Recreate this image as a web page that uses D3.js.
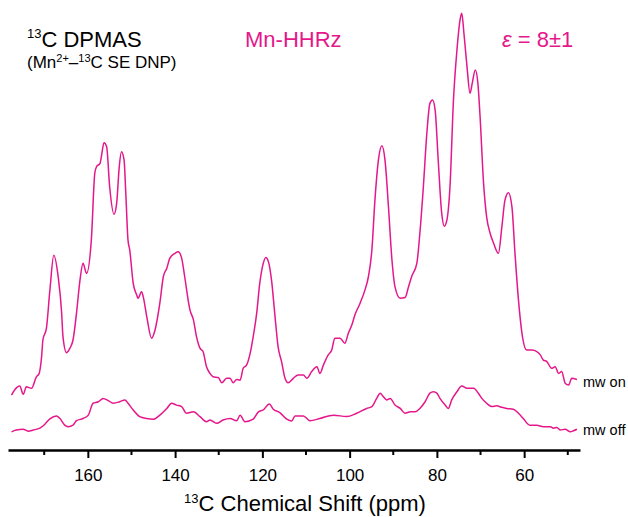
<!DOCTYPE html>
<html>

<head>
    <meta charset="utf-8">
    <title>13C DPMAS Mn-HHRz</title>
    <script src="https://d3js.org/d3.v7.min.js"></script>
    <style>
        body {
            margin: 0;
            background: #fff;
            font-family: Arial, "Liberation Sans", sans-serif;
        }
    </style>
</head>

<body>
    <div class="inner"></div>
    <script>
        // chemical shift (ppm) and intensity (a.u.)
        const onPpm = [177.5, 176.7, 175.6, 174.8, 174.1, 172.9, 171.8, 171.2, 170.6, 170.3, 169.5, 168.7, 167.8, 166.8, 166.0, 165.7, 164.9, 164.1, 163.4, 162.6, 161.8, 161.1, 160.3, 159.2, 158.4, 158.0, 157.2, 156.9, 156.3, 155.7, 155.0, 154.0, 153.4, 152.8, 152.3, 151.7, 151.3, 150.8, 150.4, 149.6, 148.8, 148.5, 147.7, 147.3, 146.5, 145.4, 144.6, 143.5, 142.7, 141.9, 141.2, 140.0, 139.3, 138.5, 137.8, 136.6, 135.8, 135.1, 134.3, 133.6, 132.8, 132.0, 131.3, 130.1, 129.3, 128.2, 127.4, 126.7, 125.9, 125.1, 124.4, 123.6, 122.8, 122.1, 121.3, 120.6, 119.8, 119.2, 118.6, 117.9, 117.1, 116.4, 115.6, 114.8, 114.1, 112.9, 111.8, 110.6, 109.8, 108.7, 107.5, 106.8, 106.0, 104.9, 104.1, 103.4, 102.2, 101.1, 100.3, 99.5, 98.8, 97.6, 96.5, 95.7, 94.9, 94.2, 93.4, 92.6, 91.9, 91.1, 90.3, 89.6, 88.4, 87.3, 86.5, 85.8, 84.6, 83.9, 83.1, 82.3, 81.6, 81.0, 80.4, 79.7, 78.9, 78.3, 77.7, 77.0, 76.2, 75.4, 74.7, 74.3, 73.8, 73.1, 72.4, 71.9, 71.2, 70.6, 70.1, 69.3, 68.6, 67.8, 67.0, 65.9, 65.1, 64.4, 63.6, 62.8, 62.1, 61.3, 60.5, 59.4, 58.2, 57.1, 56.3, 55.6, 54.8, 53.7, 52.9, 52.1, 51.4, 50.6, 49.8, 49.1, 47.9]
        const onInt = [-2.7, -1.2, -0.3, -2.5, -0.5, -0.9, 2.2, 3.0, 7.6, 12.1, 15.2, 25.5, 34.9, 29.1, 19.3, 13.0, 8.7, 9.9, 12.1, 19.3, 28.2, 32.7, 30.0, 39.0, 57.0, 58.7, 59.6, 61.4, 65.1, 64.1, 53.3, 45.9, 48.8, 58.7, 62.7, 60.5, 51.5, 39.0, 36.3, 27.3, 24.2, 23.3, 25.1, 23.7, 18.4, 12.6, 14.8, 22.0, 29.1, 31.4, 34.1, 35.4, 35.8, 34.1, 29.1, 20.2, 17.5, 13.0, 9.9, 9.0, 4.9, 3.1, 2.2, 2.0, 0.6, 1.8, 1.8, 0.6, 1.5, 1.3, 4.5, 5.4, 8.5, 13.0, 19.3, 27.3, 32.7, 34.3, 33.1, 28.2, 18.4, 10.3, 6.3, 1.8, 0.6, 1.8, 2.7, 2.7, 1.8, 3.6, 4.9, 3.1, 5.4, 8.1, 9.4, 12.6, 12.6, 11.2, 13.9, 16.1, 18.8, 22.0, 25.5, 29.1, 36.3, 49.7, 60.5, 64.3, 60.5, 47.9, 33.6, 26.4, 23.3, 23.5, 26.4, 29.1, 32.7, 40.8, 53.3, 67.7, 75.7, 76.6, 73.9, 60.5, 46.2, 42.7, 44.4, 53.3, 76.6, 90.1, 98.1, 99.9, 94.5, 85.6, 78.4, 81.1, 84.7, 81.1, 72.1, 54.2, 45.2, 40.8, 38.1, 35.4, 42.6, 49.7, 51.7, 47.9, 35.4, 22.8, 13.9, 9.4, 9.4, 9.0, 8.1, 6.7, 6.3, 4.5, 4.9, 3.1, 3.6, 0.5, 0.0, 1.8, 1.5]

        const offPpm = [177.5, 176.4, 174.8, 173.7, 172.5, 171.0, 169.9, 168.7, 167.2, 166.4, 165.3, 164.5, 163.4, 162.6, 161.1, 159.9, 158.8, 157.6, 156.5, 155.3, 154.2, 152.7, 151.5, 150.8, 149.6, 148.1, 146.5, 145.0, 143.5, 141.9, 140.8, 139.7, 138.5, 137.4, 135.8, 134.3, 132.8, 132.0, 130.5, 129.0, 127.4, 125.9, 125.1, 124.0, 122.1, 120.9, 119.8, 118.4, 117.5, 116.0, 114.4, 113.3, 112.5, 110.6, 109.1, 106.8, 103.7, 100.7, 98.4, 96.1, 94.9, 93.8, 93.0, 92.3, 91.5, 90.7, 89.6, 88.4, 87.3, 86.1, 85.0, 83.9, 82.7, 81.6, 80.8, 80.0, 79.3, 78.1, 77.4, 76.6, 75.4, 74.3, 73.1, 71.6, 70.5, 69.7, 68.6, 67.4, 66.3, 65.1, 64.0, 62.5, 61.3, 60.2, 58.7, 57.1, 55.6, 54.0, 53.3, 52.5, 51.7, 50.6, 49.4, 48.7, 47.9]
        const offInt = [-0.5, 0.0, 0.2, -0.3, 0.0, 0.5, 1.5, 3.0, 3.8, 3.1, 1.3, 0.9, 1.3, 2.5, 3.1, 4.0, 7.2, 7.6, 8.5, 7.9, 7.2, 7.6, 8.1, 7.2, 5.4, 3.6, 3.1, 2.9, 4.0, 5.8, 7.2, 6.7, 6.3, 4.5, 4.9, 3.6, 2.2, 2.7, 1.8, 2.7, 3.1, 2.5, 4.0, 2.2, 2.9, 4.9, 5.4, 7.0, 5.6, 4.7, 2.9, 2.4, 3.8, 3.8, 2.5, 3.1, 4.0, 3.6, 4.5, 5.8, 6.3, 8.5, 9.9, 9.0, 8.1, 8.5, 6.7, 5.8, 4.5, 4.9, 4.9, 5.8, 7.6, 9.9, 10.3, 9.9, 8.5, 6.7, 5.8, 8.1, 10.3, 11.8, 11.2, 11.2, 9.9, 8.5, 7.2, 6.3, 6.5, 6.1, 5.8, 5.6, 4.5, 3.1, 1.3, 1.3, 0.9, 0.9, 0.5, 0.7, 0.0, 0.2, -0.5, -0.2, 0.2]

        const majorTicks = [160, 140, 120, 100, 80, 60]
        const minorTicks = [170, 150, 130, 110, 90, 70, 50]

        const w = 628
        const h = 517
        const color = "#e4178b"
        const offShift = -12.1 // vertical stacking of the mw off trace

        const svg = d3.select(".inner")
            .append("svg")
            .attr("width", w)
            .attr("height", h)

        const xScale = d3.scaleLinear()
            .domain([178.3, 47.2])
            .range([8, 580])

        const yScale = d3.scaleLinear()
            .domain([0, 100])
            .range([385, 13])

        const onData = onPpm.map((p, i) => ({ ppm: p, v: onInt[i] }))
        const offData = offPpm.map((p, i) => ({ ppm: p, v: offInt[i] + offShift }))

        const line = d3.line()
            .x(d => xScale(d.ppm))
            .y(d => yScale(d.v))
            .curve(d3.curveMonotoneX)

        svg.append("path")
            .datum(onData)
            .attr("d", line)
            .style("fill", "none")
            .style("stroke", color)
            .style("stroke-width", 1.5)

        svg.append("path")
            .datum(offData)
            .attr("d", line)
            .style("fill", "none")
            .style("stroke", color)
            .style("stroke-width", 1.5)

        // x axis
        const axisY = 450
        const xAxis = d3.axisBottom(xScale)
            .tickValues(majorTicks)
            .tickSizeInner(8)
            .tickSizeOuter(0)
            .tickPadding(11)
            .tickFormat(d3.format("d"))

        const gx = svg.append("g")
            .attr("transform", "translate(0," + axisY + ")")
            .call(xAxis)

        gx.select(".domain").style("stroke-width", 2.5)
        gx.selectAll(".tick line").style("stroke-width", 2)
        gx.selectAll(".tick text")
            .style("font-family", "Arial, 'Liberation Sans', sans-serif")
            .style("font-size", "17px")
            .style("fill", "#000")

        gx.selectAll(".minor")
            .data(minorTicks)
            .enter()
            .append("line")
            .attr("class", "minor")
            .attr("x1", d => xScale(d))
            .attr("x2", d => xScale(d))
            .attr("y1", 0)
            .attr("y2", 5)
            .style("stroke", "#000")
            .style("stroke-width", 2)

        // axis title
        const xt = svg.append("text")
            .attr("x", 305)
            .attr("y", 511)
            .attr("text-anchor", "middle")
            .style("font-size", "22px")
        xt.append("tspan").text("13").style("font-size", "13px").attr("dy", -8)
        xt.append("tspan").text("C Chemical Shift (ppm)").attr("dy", 8)

        // labels top left
        const t1 = svg.append("text")
            .attr("x", 27)
            .attr("y", 47)
            .style("font-size", "22px")
        t1.append("tspan").text("13").style("font-size", "13px").attr("dy", -9)
        t1.append("tspan").text("C DPMAS").attr("dy", 9)

        const t2 = svg.append("text")
            .attr("x", 27)
            .attr("y", 68)
            .style("font-size", "17px")
        t2.append("tspan").text("(Mn")
        t2.append("tspan").text("2+").style("font-size", "11px").attr("dy", -6)
        t2.append("tspan").text("–").attr("dy", 6)
        t2.append("tspan").text("13").style("font-size", "11px").attr("dy", -6)
        t2.append("tspan").text("C SE DNP)").attr("dy", 6)

        svg.append("text")
            .attr("x", 245)
            .attr("y", 47)
            .style("font-size", "22px")
            .style("fill", color)
            .text("Mn-HHRz")

        const eps = svg.append("text")
            .attr("x", 502)
            .attr("y", 47)
            .style("font-size", "22px")
            .style("fill", color)
        eps.append("tspan").text("ε").style("font-style", "italic")
        eps.append("tspan").text(" = 8±1")

        svg.append("text")
            .attr("x", 583)
            .attr("y", 387)
            .style("font-size", "14.5px")
            .text("mw on")

        svg.append("text")
            .attr("x", 583)
            .attr("y", 435)
            .style("font-size", "14.5px")
            .text("mw off")
    </script>
</body>

</html>
